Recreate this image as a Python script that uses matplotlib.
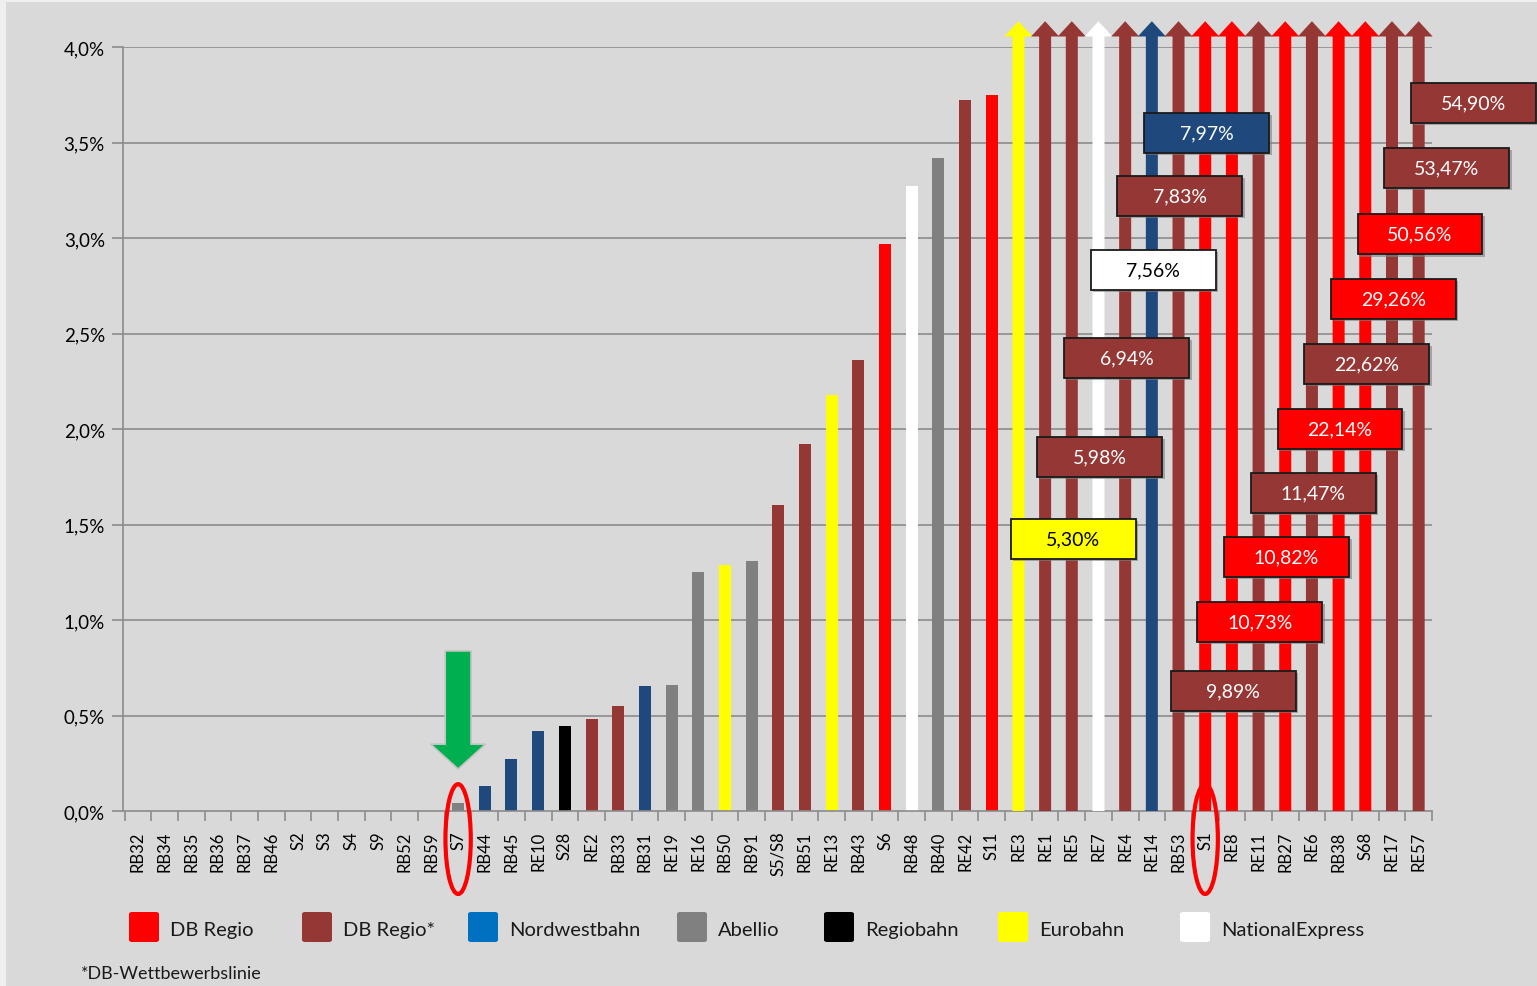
import numpy as np
import matplotlib.pyplot as plt
from matplotlib.patches import FancyArrow, Rectangle, Ellipse, FancyBboxPatch
from matplotlib.ticker import FuncFormatter, MultipleLocator

plt.rcParams["font.family"] = ["Lato", "DejaVu Sans"]

# data (share in percent)
lines = ["RB32", "RB34", "RB35", "RB36", "RB37", "RB46", "S2", "S3", "S4", "S9",
         "RB52", "RB59", "S7", "RB44", "RB45", "RE10", "S28", "RE2", "RB33", "RB31",
         "RE19", "RE16", "RB50", "RB91", "S5/S8", "RB51", "RE13", "RB43", "S6", "RB48",
         "RB40", "RE42", "S11", "RE3", "RE1", "RE5", "RE7", "RE4", "RE14", "RB53",
         "S1", "RE8", "RE11", "RB27", "RE6", "RB38", "S68", "RE17", "RE57"]
values = [0, 0, 0, 0, 0, 0, 0, 0, 0, 0,
          0, 0, 0.04, 0.13, 0.27, 0.42, 0.445, 0.48, 0.55, 0.655,
          0.66, 1.25, 1.29, 1.31, 1.60, 1.92, 2.18, 2.36, 2.97, 3.27,
          3.42, 3.72, 3.75, 5.30, 5.98, 6.94, 7.56, 7.83, 7.97, 9.89,
          10.73, 10.82, 11.47, 22.14, 22.62, 29.26, 50.56, 53.47, 54.90]
operators = ["DB Regio*"] * 12 + [
    "Abellio", "Nordwestbahn", "Nordwestbahn", "Nordwestbahn", "Regiobahn",
    "DB Regio*", "DB Regio*", "Nordwestbahn", "Abellio", "Abellio",
    "Eurobahn", "Abellio", "DB Regio*", "DB Regio*", "Eurobahn",
    "DB Regio*", "DB Regio", "NationalExpress", "Abellio", "DB Regio*",
    "DB Regio", "Eurobahn", "DB Regio*", "DB Regio*", "NationalExpress",
    "DB Regio*", "Nordwestbahn", "DB Regio*", "DB Regio", "DB Regio",
    "DB Regio*", "DB Regio", "DB Regio*", "DB Regio", "DB Regio",
    "DB Regio*", "DB Regio*"]
legend_names = ["DB Regio", "DB Regio*", "Nordwestbahn", "Abellio",
                "Regiobahn", "Eurobahn", "NationalExpress"]
marked_lines = ["S7", "S1"]
footnote = "*DB-Wettbewerbslinie"

# styles
bar_colors = {"DB Regio": "#ff0000", "DB Regio*": "#953735", "Nordwestbahn": "#1f497d",
              "Abellio": "#808080", "Regiobahn": "#000000", "Eurobahn": "#ffff00",
              "NationalExpress": "#ffffff"}
legend_colors = dict(bar_colors, Nordwestbahn="#0070c0")
dark_text = {"Eurobahn", "NationalExpress"}
# heights of the value boxes for the arrows (layout), in axis units
box_y = [1.424, 1.853, 2.372, 2.832, 3.22, 3.55, 0.628, 0.99,
         1.33, 1.665, 2.0, 2.34, 2.68, 3.02, 3.366, 3.707]
legend_x = [129, 302, 468, 677, 824, 998, 1180]

W, H = 1537, 987
fig = plt.figure(figsize=(W / 100, H / 100), dpi=100, facecolor="#d9d9d9")
fig.patches.append(Rectangle((0, 0), 6 / W, 1, transform=fig.transFigure,
                             facecolor="#efefef", edgecolor="none"))
fig.patches.append(Rectangle((0, 1 - 3 / H), 1, 3 / H, transform=fig.transFigure,
                             facecolor="#efefef", edgecolor="none"))
ax = fig.add_axes([123 / W, 1 - 812 / H, (1432 - 123) / W, (812 - 48) / H])
ax.set_facecolor("#d9d9d9")

x = np.arange(len(lines))
ymax = 4.0
grid_c = "#8c8c8c"
for yv in np.arange(0.5, ymax + 0.01, 0.5):
    ax.axhline(yv, color=grid_c, lw=1.2, zorder=1)

small = [(i, v) for i, v in enumerate(values) if v <= ymax]
big = [(i, v) for i, v in enumerate(values) if v > ymax]

ax.bar([i for i, _ in small], [v for _, v in small], width=0.45,
       color=[bar_colors[operators[i]] for i, _ in small], linewidth=0, zorder=2)

tip = 4.135
for k, (i, v) in enumerate(big):
    c = bar_colors[operators[i]]
    ax.add_patch(FancyArrow(i, 0, 0, tip, width=0.45, head_width=1.05,
                            head_length=0.08, length_includes_head=True,
                            facecolor=c, edgecolor="none", clip_on=False, zorder=3))

bw, bh = 4.68, 0.21
for k, (i, v) in enumerate(big):
    op = operators[i]
    cx, cy = i + 2.05, box_y[k]
    ax.add_patch(Rectangle((cx - bw / 2 + 0.1, cy - bh / 2 - 0.012), bw, bh,
                           facecolor="#7f7f7f", edgecolor="none", alpha=0.6,
                           clip_on=False, zorder=4))
    ax.add_patch(Rectangle((cx - bw / 2, cy - bh / 2), bw, bh,
                           facecolor=bar_colors[op], edgecolor="#1a1a1a", lw=1.3,
                           clip_on=False, zorder=5))
    ax.text(cx, cy, f"{v:.2f}%".replace(".", ","), ha="center", va="center",
            fontsize=14, color="black" if op in dark_text else "white",
            zorder=6, clip_on=False)

# green pointer above S7
i7 = lines.index("S7")
ax.add_patch(FancyArrow(i7, 0.838, 0, -0.618, width=0.97, head_width=2.06,
                        head_length=0.13, length_includes_head=True,
                        facecolor="#00b050", edgecolor="#c4c4c4", lw=1.2, zorder=6))

# red rings round marked line names
for name in marked_lines:
    ax.add_patch(Ellipse((lines.index(name), -0.147), 0.95, 0.575, facecolor="none",
                         edgecolor="#ff0000", lw=3, clip_on=False, zorder=7))

ax.set_xlim(-0.56, 48.5)
ax.set_ylim(0, ymax)
ax.yaxis.set_major_locator(MultipleLocator(0.5))
ax.yaxis.set_major_formatter(FuncFormatter(lambda v, p: f"{v:.1f}%".replace(".", ",")))
ax.set_xticks(x)
ax.set_xticklabels(lines, rotation=90, fontsize=12)
ax.set_xticks(np.arange(-0.5, len(lines)), minor=True)
ax.tick_params(axis="x", which="major", length=0, pad=14)
ax.tick_params(axis="x", which="minor", length=7, color=grid_c, width=1.2)
ax.tick_params(axis="y", length=8, color=grid_c, width=1.2, labelsize=13.5, pad=5)
for s in ["top", "right"]:
    ax.spines[s].set_visible(False)
for s in ["left", "bottom"]:
    ax.spines[s].set_color(grid_c)
    ax.spines[s].set_linewidth(1.2)

# legend drawn by hand
for name, lx in zip(legend_names, legend_x):
    fig.patches.append(FancyBboxPatch((lx / W, 1 - 943 / H), 30 / W, 30 / H,
                                      boxstyle="round,pad=0,rounding_size=0.002",
                                      transform=fig.transFigure,
                                      facecolor=legend_colors[name], edgecolor="none"))
    fig.text((lx + 41) / W, 1 - 931 / H, name, fontsize=14.5, ha="left", va="center",
             color="#1a1a1a")
fig.text(81 / W, 1 - 974 / H, footnote, fontsize=13, ha="left", va="center",
         color="#1a1a1a")

fig.savefig("out.png", dpi=100, facecolor=fig.get_facecolor())
